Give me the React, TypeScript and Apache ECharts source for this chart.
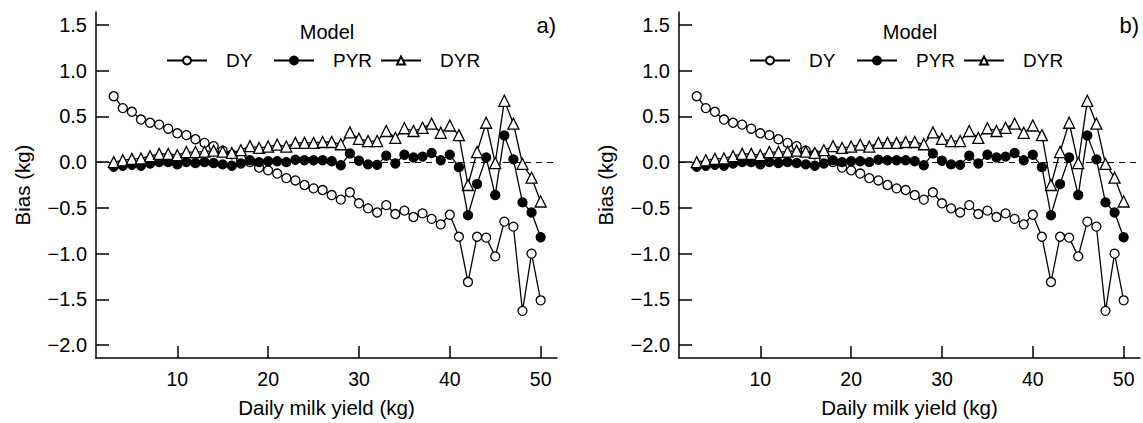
import React, { useEffect, useRef } from "react";
import * as echarts from "echarts";

const FONT = "'Liberation Sans', Arial, Helvetica, sans-serif";

const yields = [3, 4, 5, 6, 7, 8, 9, 10, 11, 12, 13, 14, 15, 16, 17, 18, 19, 20, 21, 22, 23, 24, 25, 26, 27, 28, 29, 30, 31, 32, 33, 34, 35, 36, 37, 38, 39, 40, 41, 42, 43, 44, 45, 46, 47, 48, 49, 50];

const biasDY = [0.72, 0.59, 0.55, 0.465, 0.43, 0.41, 0.365, 0.315, 0.295, 0.25, 0.21, 0.175, 0.125, 0.085, 0.04, 0.0, -0.06, -0.09, -0.125, -0.175, -0.2, -0.25, -0.287, -0.305, -0.36, -0.41, -0.33, -0.45, -0.505, -0.55, -0.47, -0.567, -0.53, -0.6, -0.56, -0.62, -0.68, -0.575, -0.815, -1.31, -0.815, -0.825, -1.03, -0.65, -0.705, -1.625, -1.0, -1.51];

const biasPYR = [-0.05, -0.04, -0.03, -0.04, -0.015, 0.0, 0.0, -0.025, 0.0, -0.01, 0.0, -0.01, -0.025, -0.04, -0.015, 0.02, 0.0, 0.01, 0.01, 0.0, 0.025, 0.02, 0.02, 0.02, 0.01, -0.035, 0.095, 0.015, -0.025, -0.03, 0.07, -0.015, 0.08, 0.05, 0.06, 0.1, 0.02, 0.08, -0.055, -0.58, -0.24, 0.05, -0.36, 0.29, 0.03, -0.44, -0.55, -0.82];

const biasDYR = [0.0, 0.02, 0.035, 0.04, 0.065, 0.09, 0.09, 0.075, 0.11, 0.11, 0.115, 0.125, 0.115, 0.1, 0.13, 0.175, 0.155, 0.17, 0.19, 0.17, 0.21, 0.21, 0.21, 0.22, 0.22, 0.195, 0.325, 0.255, 0.23, 0.23, 0.34, 0.265, 0.37, 0.34, 0.375, 0.42, 0.32, 0.4, 0.295, -0.25, 0.11, 0.43, -0.01, 0.67, 0.42, -0.02, -0.17, -0.43];

const seriesNames = ["DY", "PYR", "DYR"];
const xTicks = [10, 20, 30, 40, 50];
const yTicks = [-2, -1.5, -1, -0.5, 0, 0.5, 1, 1.5];
const panelLabels = ["a)", "b)"];
const xAxisTitle = "Daily milk yield (kg)";
const yAxisTitle = "Bias (kg)";
const legendTitle = "Model";

export default function App() {
  const ref = useRef<HTMLDivElement>(null);
  useEffect(() => {
    document.body.style.margin = "0";
    if (!ref.current) return;
    const chart = echarts.init(ref.current, undefined, { renderer: "svg" });
    const offsets = [0, 583];
    const seriesData = [biasDY, biasPYR, biasDYR];
    const grids: any[] = [];
    const xAxes: any[] = [];
    const yAxes: any[] = [];
    const series: any[] = [];
    const legends: any[] = [];
    const graphics: any[] = [];
    const legendLeft = [166, 273, 380];
    const symbolStyles = [
      { symbol: "circle", symbolSize: 9, fill: "#fff" },
      { symbol: "circle", symbolSize: 9, fill: "#000" },
      { symbol: "triangle", symbolSize: 11, fill: "#fff" },
    ];
    offsets.forEach((off, p) => {
      grids.push({ left: 96 + off, top: 12, width: 461, height: 346 });
      xAxes.push({
        type: "value",
        gridIndex: p,
        min: 1.05,
        max: 51.8,
        name: xAxisTitle,
        nameLocation: "middle",
        nameGap: 39,
        nameTextStyle: { color: "#000", fontSize: 20.5, fontFamily: FONT },
        axisLine: { show: true, onZero: false, lineStyle: { color: "#000", width: 1.5 } },
        axisTick: { show: true, inside: true, length: 12, customValues: xTicks, lineStyle: { color: "#000", width: 1.5 } },
        axisLabel: { show: true, customValues: xTicks, color: "#000", fontSize: 19.5, fontFamily: FONT, margin: 11 },
        splitLine: { show: false },
      });
      yAxes.push({
        type: "value",
        gridIndex: p,
        min: -2.14,
        max: 1.64,
        name: yAxisTitle,
        nameLocation: "middle",
        nameGap: 63,
        nameTextStyle: { color: "#000", fontSize: 20.5, fontFamily: FONT },
        axisLine: { show: true, onZero: false, lineStyle: { color: "#000", width: 1.5 } },
        axisTick: { show: true, inside: true, length: 13, customValues: yTicks, lineStyle: { color: "#000", width: 1.5 } },
        axisLabel: {
          show: true,
          customValues: yTicks,
          color: "#000",
          fontSize: 20,
          fontFamily: FONT,
          margin: 9,
          formatter: (v: number) => v.toFixed(1).replace("-", "\u2212"),
        },
        splitLine: { show: false },
      });
      seriesNames.forEach((name, k) => {
        const s: any = {
          type: "line",
          name,
          xAxisIndex: p,
          yAxisIndex: p,
          data: yields.map((x, i) => [x, seriesData[k][i]]),
          symbol: symbolStyles[k].symbol,
          symbolSize: symbolStyles[k].symbolSize,
          showSymbol: true,
          lineStyle: { color: "#000", width: 1.3 },
          itemStyle: { color: symbolStyles[k].fill, borderColor: "#000", borderWidth: 1.3 },
          emphasis: { disabled: true },
          z: 3 + k,
        };
        if (k === 0) {
          s.markLine = {
            silent: true,
            symbol: ["none", "none"],
            label: { show: false },
            lineStyle: { color: "#000", type: [6, 5], width: 1.2 },
            data: [{ yAxis: 0 }],
            z: 1,
          };
        }
        series.push(s);
        legends.push({
          data: [name],
          left: legendLeft[k] + off,
          top: 51,
          padding: 0,
          itemWidth: 40,
          itemHeight: 10,
          selectedMode: false,
          textStyle: { color: "#000", fontSize: 19, fontFamily: FONT, padding: [0, 0, 0, 14] },
        });
      });
      graphics.push({
        type: "text",
        x: 327 + off,
        y: 32,
        style: { text: legendTitle, fill: "#000", font: `20px ${FONT}`, textAlign: "center", textVerticalAlign: "middle" },
      });
      graphics.push({
        type: "text",
        x: 556 + off,
        y: 25,
        style: { text: panelLabels[p], fill: "#000", font: `22px ${FONT}`, textAlign: "right", textVerticalAlign: "middle" },
      });
    });
    chart.setOption({
      animation: false,
      backgroundColor: "#fff",
      grid: grids,
      xAxis: xAxes,
      yAxis: yAxes,
      series,
      legend: legends,
      graphic: graphics,
      tooltip: { show: false },
    });
    return () => chart.dispose();
  }, []);
  return <div ref={ref} style={{ width: 1143, height: 423 }} />;
}
